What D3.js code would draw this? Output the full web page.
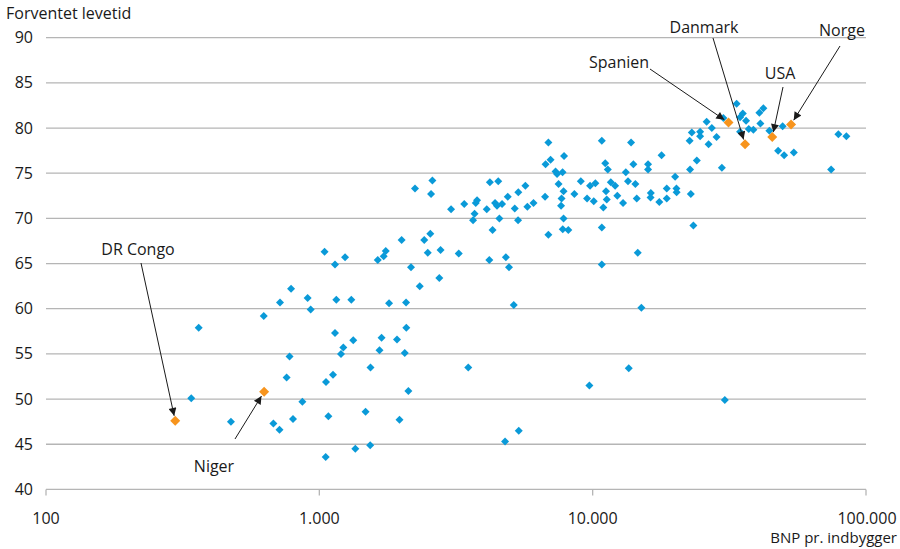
<!DOCTYPE html>
<html>
<head>
<meta charset="utf-8">
<script src="https://cdn.jsdelivr.net/npm/d3@7"></script>
<style>
html,body{margin:0;padding:0;background:#fff;}
svg{display:block;}
text{font-family:"Open Sans","Noto Sans",sans-serif;fill:#1a1a1a;}
</style>
</head>
<body>
<svg id="chart" width="900" height="549"></svg>
<script>
// ---- data ----
const gdp = [340,362,475,626,679,715,718,759,778,788,801,867,906,930,
  1045,1055,1058,1079,1122,1141,1141,1154,1200,1224,1242,1309,1331,1354,1476,1539,1535,1636,1660,1689,1720,1750,1799,1924,1965,2000,2054,2076,2081,2117,2165,2239,2330,2420,2493,2547,2563,2591,2748,2777,3034,3236,3390,3506,3651,3698,3735,3776,4098,4186,4207,4303,4395,4467,4515,4556,4661,4781,4813,4891,4943,5144,5188,5333,5346,5366,5672,5768,6076,6695,6724,6887,6887,7015,7316,7409,7503,7695,7663,7762,7825,7825,7773,7858,8147,8570,9052,9539,9727,9783,
  10090,10230,10800,10800,10800,10940,11120,11190,11260,11360,11650,12080,12310,12920,13220,13470,13550,13820,14090,14330,14500,14620,15070,15950,15950,16320,16290,17530,17870,18670,18670,20030,20250,20280,22630,22720,22860,23050,23360,24040,24720,24720,26110,26550,27280,28400,29690,30080,30440,33620,34620,34620,35420,36410,37250,38730,40740,41080,42130,44310,47690,49530,50160,54430,74540,79250,84770];
const life = [50.1,57.9,47.5,59.2,47.3,46.6,60.7,52.4,54.7,62.2,47.8,49.7,61.2,59.9,
  66.3,43.6,51.9,48.1,52.7,64.9,57.3,61.0,55.0,55.7,65.7,61.0,56.5,44.5,48.6,53.5,44.9,65.4,55.4,56.8,65.8,66.4,60.6,56.6,47.7,67.6,55.1,60.7,57.9,50.9,64.6,73.3,62.5,67.6,66.2,68.3,72.7,74.2,63.4,66.5,71.0,66.1,71.6,53.5,69.8,70.5,71.7,72.0,71.0,65.4,74.0,68.7,71.7,71.4,74.1,70.0,71.6,45.3,65.7,72.4,64.6,60.4,71.1,69.8,72.9,46.5,73.6,71.3,71.7,72.4,76.0,78.4,68.2,76.5,75.2,74.9,73.8,72.2,71.4,75.1,73.0,70.0,68.8,76.9,68.7,72.7,74.1,72.2,51.5,73.6,
  71.9,73.9,78.6,69.0,64.9,71.2,76.1,73.0,72.1,75.4,74.0,73.6,72.5,71.7,75.1,74.1,53.4,78.4,76.0,73.8,72.2,66.2,60.1,76.0,75.4,72.8,72.3,71.8,77.0,73.3,72.2,74.6,73.3,72.9,78.6,75.4,72.7,79.5,69.2,76.4,79.6,79.1,80.7,78.2,80.0,79.0,75.6,81.1,49.9,82.7,81.2,79.6,81.6,80.8,79.9,79.8,81.7,80.5,82.2,79.7,77.5,80.2,77.0,77.3,75.4,79.3,79.1];

const hlNames = ["DR Congo","Niger","Spanien","Danmark","USA","Norge"];
const hlGdp   = [297, 628, 31400, 36100, 45400, 53200];
const hlLife  = [47.6, 50.8, 80.6, 78.2, 79.0, 80.4];

const yTicks = [40,45,50,55,60,65,70,75,80,85,90];
const xTicks = [100,1000,10000,100000];
const xTickLabels = ["100","1.000","10.000","100.000"];
const yTitle = "Forventet levetid";
const xTitle = "BNP pr. indbygger";

// ---- layout ----
const svg = d3.select("#chart");
const x = d3.scaleLog().domain([100,100000]).range([46,866]);
const y = d3.scaleLinear().domain([40,90]).range([489.4,37.7]);
const blue = "#0a9ad8", orange = "#f7941d", grid = "#b5b5b5";
const fs = "16px";

// gridlines
svg.append("g").selectAll("line").data(yTicks).join("line")
  .attr("x1", x.range()[0]).attr("x2", x.range()[1])
  .attr("y1", d => y(d)).attr("y2", d => y(d))
  .attr("stroke", grid).attr("stroke-width", 1.3);

// x axis ticks
svg.append("g").selectAll("line").data(xTicks).join("line")
  .attr("x1", d => x(d)).attr("x2", d => x(d))
  .attr("y1", y(40)).attr("y2", y(40) + 6)
  .attr("stroke", grid).attr("stroke-width", 1.3);

// y labels
svg.append("g").selectAll("text").data(yTicks).join("text")
  .attr("x", 33).attr("y", d => y(d)).attr("dy", "0.35em")
  .attr("text-anchor", "end").style("font-size", fs).text(d => d);

// x labels
svg.append("g").selectAll("text").data(xTicks).join("text")
  .attr("x", (d,i) => x(d) + (i === 3 ? 1 : 0)).attr("y", 518).attr("dy", "0.35em")
  .attr("text-anchor", "middle").style("font-size", fs).text((d,i) => xTickLabels[i]);

svg.append("text").attr("x", 6).attr("y", 13).attr("dy", "0.35em")
  .style("font-size", fs).text(yTitle);
svg.append("text").attr("x", 897).attr("y", 538).attr("dy", "0.35em")
  .attr("text-anchor", "end").style("font-size", "15px").text(xTitle);

// diamond path
function diamond(r){ return `M0,${-r}L${r},0L0,${r}L${-r},0Z`; }

const pts = gdp.map((g,i) => ({g, l: life[i]}));
svg.append("g").selectAll("path").data(pts).join("path")
  .attr("d", diamond(4))
  .attr("transform", d => `translate(${x(d.g)},${y(d.l)})`)
  .attr("fill", blue);

const hl = hlNames.map((n,i) => ({n, g: hlGdp[i], l: hlLife[i]}));
svg.append("g").selectAll("path").data(hl).join("path")
  .attr("d", diamond(5))
  .attr("transform", d => `translate(${x(d.g)},${y(d.l)})`)
  .attr("fill", orange);

// annotations (label position + line start)
const ann = {
  "DR Congo": {tx:138, ty:249, sx:141, sy:263},
  "Niger":    {tx:214, ty:466, sx:235, sy:439},
  "Spanien":  {tx:619, ty:62,  sx:650, sy:69},
  "Danmark":  {tx:704, ty:27,  sx:713, sy:38},
  "USA":      {tx:780, ty:73,  sx:783, sy:87},
  "Norge":    {tx:842, ty:30,  sx:840, sy:46}
};

const defs = svg.append("defs");
defs.append("marker").attr("id","ah").attr("viewBox","0 0 10 10")
  .attr("refX",10).attr("refY",5).attr("markerWidth",10).attr("markerHeight",8)
  .attr("markerUnits","userSpaceOnUse").attr("orient","auto")
  .append("path").attr("d","M0,0L10,5L0,10Z").attr("fill","#1a1a1a");

const ag = svg.append("g");
hl.forEach(d => {
  const a = ann[d.n];
  const px = x(d.g), py = y(d.l);
  const dx = px - a.sx, dy = py - a.sy, len = Math.hypot(dx,dy);
  const ex = px - dx/len*5, ey = py - dy/len*5;
  ag.append("line").attr("x1",a.sx).attr("y1",a.sy).attr("x2",ex).attr("y2",ey)
    .attr("stroke","#1a1a1a").attr("stroke-width",1).attr("marker-end","url(#ah)");
  ag.append("text").attr("x",a.tx).attr("y",a.ty).attr("dy","0.35em")
    .attr("text-anchor","middle").style("font-size",fs).text(d.n);
});
</script>
</body>
</html>
